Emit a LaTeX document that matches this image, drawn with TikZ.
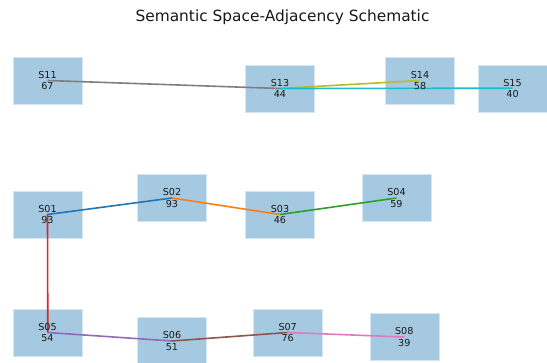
\documentclass[tikz,border=0pt]{standalone}
\usepackage{fontspec}
\setmainfont{DejaVu Sans}
\definecolor{boxfill}{HTML}{A5C9E1}
\definecolor{boxedge}{HTML}{D4E6F1}
\definecolor{edgegray}{HTML}{7F7F7F}
\definecolor{edgeolive}{HTML}{BCBD22}
\definecolor{edgecyan}{HTML}{17BECF}
\definecolor{edgeblue}{HTML}{1F77B4}
\definecolor{edgeorange}{HTML}{FF7F0E}
\definecolor{edgegreen}{HTML}{2CA02C}
\definecolor{edgered}{HTML}{D62728}
\definecolor{edgepurple}{HTML}{9467BD}
\definecolor{edgebrown}{HTML}{8C564B}
\definecolor{edgepink}{HTML}{E377C2}
\tikzset{
  roombox/.style={rectangle, fill=boxfill, draw=boxedge, line width=0.6pt, minimum width=69pt, minimum height=47pt, inner sep=0pt},
  roomlabel/.style={align=center, inner sep=0pt, font=\fontsize{9.6pt}{11.3pt}\selectfont, text=black!90},
  adj/.style={line width=1.6pt},
}
\begin{document}
\begin{tikzpicture}[x=1pt,y=-1pt]
\useasboundingbox (0,0) rectangle (547,363);
\fill[white] (0,0) rectangle (547,363);
\node[font=\fontsize{15.4pt}{18pt}\selectfont, text=black!90] (title) at (282.5,17.5) {Semantic Space-Adjacency Schematic};
% boxes
\node[roombox] (s11) at (47.5,80.5) {};
\node[roombox] (s13) at (280,88.5) {};
\node[roombox] (s14) at (420,80.5) {};
\node[roombox] (s15) at (512.5,88.5) {};
\node[roombox] (s01) at (47.5,214.5) {};
\node[roombox] (s02) at (172,198) {};
\node[roombox] (s03) at (280,214.5) {};
\node[roombox] (s04) at (396.5,198) {};
\node[roombox] (s05) at (47.5,332.5) {};
\node[roombox] (s06) at (172,341) {};
\node[roombox] (s07) at (287.7,332.5) {};
\node[roombox] (s08) at (404.3,337) {};
% adjacency lines
\draw[adj, draw=edgegray] (s11.center) -- (s13.center);
\draw[adj, draw=edgeolive] (s13.center) -- (s14.center);
\draw[adj, draw=edgecyan] (s13.center) -- ([yshift=0.3pt]s15.center);
\draw[adj, draw=edgeblue] (s01.center) -- (s02.center);
\draw[adj, draw=edgeorange] (s02.center) -- (s03.center);
\draw[adj, draw=edgegreen] (s03.center) -- (s04.center);
\draw[adj, draw=edgered] (s01.center) -- ([xshift=0.3pt]s05.center);
\draw[adj, draw=edgepurple] (s05.center) -- (s06.center);
\draw[adj, draw=edgebrown] (s06.center) -- (s07.center);
\draw[adj, draw=edgepink] (s07.center) -- (s08.center);
% labels
\node[roomlabel] (l11) at (s11) {S11\\67};
\node[roomlabel] (l13) at (s13) {S13\\44};
\node[roomlabel] (l14) at (s14) {S14\\58};
\node[roomlabel] (l15) at (s15) {S15\\40};
\node[roomlabel] (l01) at (s01) {S01\\93};
\node[roomlabel] (l02) at (s02) {S02\\93};
\node[roomlabel] (l03) at (s03) {S03\\46};
\node[roomlabel] (l04) at (s04) {S04\\59};
\node[roomlabel] (l05) at (s05) {S05\\54};
\node[roomlabel] (l06) at (s06) {S06\\51};
\node[roomlabel] (l07) at (s07) {S07\\76};
\node[roomlabel] (l08) at (s08) {S08\\39};
\end{tikzpicture}
\end{document}
